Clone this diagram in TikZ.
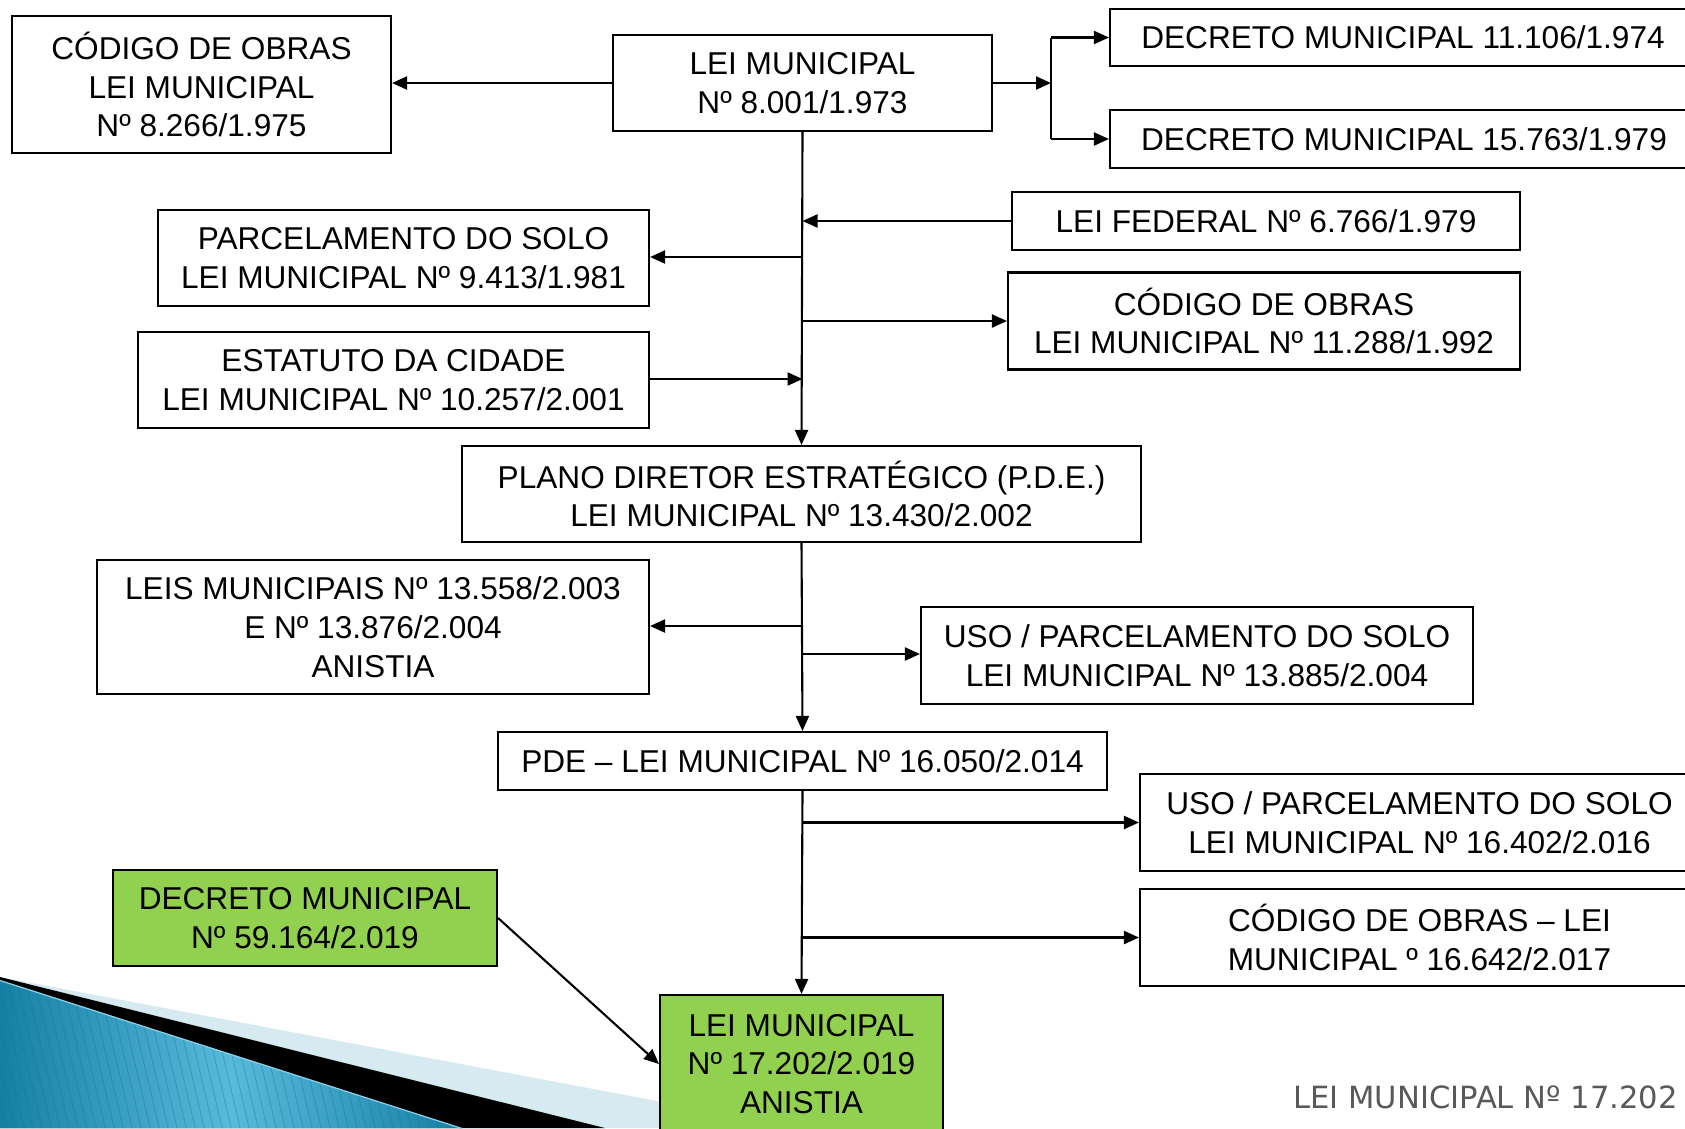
\documentclass[tikz,border=0pt]{standalone}
\usepackage{fontspec}
\setmainfont{Liberation Sans}
\newfontfamily\footfont{DejaVu Sans}
\usetikzlibrary{arrows.meta}
\definecolor{boxgreen}{RGB}{146,208,80}
\definecolor{footgray}{RGB}{89,89,89}
\definecolor{lightband}{RGB}{215,233,241}
\definecolor{tealdark}{RGB}{22,128,164}
\definecolor{teallight}{RGB}{88,186,221}
\definecolor{stripe}{RGB}{20,115,150}
\newcommand\boxfs{\fontsize{31.6}{38.7}\selectfont}
\tikzset{
  lawbox/.style={draw, line width=2.1pt, inner sep=0pt, align=center, font=\boxfs, fill=white},
  greenbox/.style={lawbox, fill=boxgreen},
  arr/.style={line width=2.1pt, -{Triangle[length=15pt,width=13pt]}},
  conn/.style={line width=2.1pt}
}
\begin{document}
\begin{tikzpicture}[x=1pt,y=-1pt]
\clip (0,0) rectangle (1685,1128);
\fill[white] (0,0) rectangle (1685,1128);
% decorative swoosh bottom-left
\fill[lightband] (0,977) -- (800,1128) -- (0,1128) -- cycle;
\fill[black] (0,977) -- (605,1128) -- (0,1128) -- cycle;
\shade[left color=tealdark, right color=tealdark, middle color=teallight] (0,980) -- (462,1128) -- (0,1128) -- cycle;
\begin{scope}
  \clip (0,980) -- (462,1128) -- (0,1128) -- cycle;
  \foreach \s in {-40,-31,...,470} {
    \draw[stripe, opacity=0.35, line width=0.9pt] (\s,970) -- (\s+40,1140);
  }
\end{scope}
\draw[teallight!70!white, line width=1.2pt] (0,980.5) -- (462,1128.5);

% nodes
\node[lawbox, minimum width=379pt, minimum height=137pt] (b1) at (201.5,84.5) {CÓDIGO DE OBRAS\\LEI MUNICIPAL\\Nº 8.266/1.975};
\node[lawbox, minimum width=379pt, minimum height=96pt] (b2) at (802.5,83) {LEI MUNICIPAL\\Nº 8.001/1.973};
\node[lawbox, minimum width=586pt, minimum height=57pt] (b3) at (1403,37.5) {DECRETO MUNICIPAL 11.106/1.974};
\node[lawbox, minimum width=588pt, minimum height=58pt] (b4) at (1404,139) {DECRETO MUNICIPAL 15.763/1.979};
\node[lawbox, minimum width=508pt, minimum height=58pt] (b5) at (1266,221) {LEI FEDERAL Nº 6.766/1.979};
\node[lawbox, minimum width=491pt, minimum height=96pt] (b6) at (403.5,258) {PARCELAMENTO DO SOLO\\LEI MUNICIPAL Nº 9.413/1.981};
\node[lawbox, minimum width=512pt, minimum height=97pt] (b7) at (1264,321) {CÓDIGO DE OBRAS\\LEI MUNICIPAL Nº 11.288/1.992};
\node[lawbox, minimum width=511pt, minimum height=96pt] (b8) at (393.5,380) {ESTATUTO DA CIDADE\\LEI MUNICIPAL Nº 10.257/2.001};
\node[lawbox, minimum width=679pt, minimum height=96pt] (b9) at (801.5,494) {PLANO DIRETOR ESTRATÉGICO (P.D.E.)\\LEI MUNICIPAL Nº 13.430/2.002};
\node[lawbox, minimum width=552pt, minimum height=134pt] (b10) at (373,627) {LEIS MUNICIPAIS Nº 13.558/2.003\\E Nº 13.876/2.004\\ANISTIA};
\node[lawbox, minimum width=552pt, minimum height=97pt] (b11) at (1197,655.5) {USO / PARCELAMENTO DO SOLO\\LEI MUNICIPAL Nº 13.885/2.004};
\node[lawbox, minimum width=609pt, minimum height=58pt] (b12) at (802.5,761) {PDE – LEI MUNICIPAL Nº 16.050/2.014};
\node[lawbox, minimum width=559pt, minimum height=97pt] (b13) at (1419.5,822.5) {USO / PARCELAMENTO DO SOLO\\LEI MUNICIPAL Nº 16.402/2.016};
\node[lawbox, minimum width=559pt, minimum height=97pt] (b14) at (1419.5,937.5) {CÓDIGO DE OBRAS – LEI\\MUNICIPAL º 16.642/2.017};
\node[greenbox, minimum width=283pt, minimum height=138pt] (b15) at (801.5,1064) {LEI MUNICIPAL\\Nº 17.202/2.019\\ANISTIA};
\node[greenbox, minimum width=384pt, minimum height=96pt] (b16) at (305,918) {DECRETO MUNICIPAL\\Nº 59.164/2.019};

\node[anchor=base east, inner sep=0pt, text=footgray, font=\footfont\fontsize{30.6}{36}\selectfont] (foot) at (1678,1108) {LEI MUNICIPAL Nº 17.202};

% connectors
\coordinate (j) at (1051,83);
\draw[arr] (b2.west) -- (b2.west -| b1.east);
\draw[arr] (b2.east) -- (j);
\draw[conn] (j |- b3.west) -- (j |- b4.west);
\draw[arr] (j |- b3.west) -- (b3.west);
\draw[arr] (j |- b4.west) -- (b4.west);

\draw[arr] (b2.south) -- (b9.north);
\draw[arr] (b5.west) -- (b5.west -| b2.south);
\draw[arr] (b2.south |- 0,257) -- (b6.east |- 0,257);
\draw[arr] (b2.south |- b7.west) -- (b7.west);
\draw[arr] (b8.east |- 0,379) -- (b2.south |- 0,379);

\draw[arr] (b9.south) -- (b12.north);
\draw[arr] (b9.south |- 0,626) -- (b10.east |- 0,626);
\draw[arr] (b9.south |- 0,654) -- (b11.west |- 0,654);

\draw[arr] (b12.south) -- (b15.north);
\draw[arr] (b12.south |- b13.west) -- (b13.west);
\draw[arr] (b12.south |- b14.west) -- (b14.west);

\draw[arr] (b16.east) -- (b15.west);
\end{tikzpicture}
\end{document}
